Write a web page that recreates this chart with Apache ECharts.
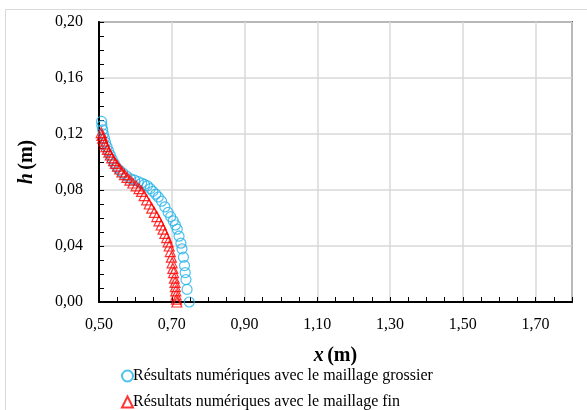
<!DOCTYPE html>
<html>
<head>
<meta charset="utf-8">
<script src="https://cdn.jsdelivr.net/npm/echarts@6/dist/echarts.min.js"></script>
<style>
  html, body { margin: 0; padding: 0; background: #fff; }
  #chart { width: 587px; height: 410px; }
</style>
</head>
<body>
<div id="chart"></div>
<script>
// maillage grossier (cercles bleus)
var xGrossier = [0.507, 0.508, 0.510, 0.512, 0.515, 0.518, 0.522, 0.526, 0.531, 0.536,
  0.542, 0.549, 0.557, 0.566, 0.576, 0.587, 0.598, 0.608, 0.617, 0.625,
  0.633, 0.641, 0.648, 0.656, 0.663, 0.672, 0.681, 0.690, 0.697, 0.704,
  0.710, 0.715, 0.720, 0.725, 0.728, 0.732, 0.735, 0.737, 0.739, 0.742,
  0.748];
var hGrossier = [0.129, 0.126, 0.123, 0.120, 0.117, 0.114, 0.111, 0.108, 0.105, 0.102,
  0.099, 0.096, 0.094, 0.092, 0.090, 0.088, 0.087, 0.086, 0.085, 0.084,
  0.083, 0.081, 0.079, 0.077, 0.075, 0.072, 0.068, 0.064, 0.061, 0.058,
  0.055, 0.052, 0.047, 0.042, 0.038, 0.032, 0.026, 0.021, 0.016, 0.009,
  0.000];

// maillage fin (triangles rouges)
var xFin = [0.506, 0.508, 0.510, 0.513, 0.516, 0.519, 0.523, 0.527, 0.531, 0.535,
  0.540, 0.545, 0.551, 0.557, 0.563, 0.570, 0.577, 0.585, 0.593, 0.602,
  0.610, 0.617, 0.624, 0.631, 0.638, 0.645, 0.652, 0.659, 0.665, 0.671,
  0.676, 0.681, 0.686, 0.690, 0.693, 0.696, 0.699, 0.701, 0.703, 0.705,
  0.707, 0.709, 0.710, 0.711, 0.712, 0.713, 0.714];
var hFin = [0.121, 0.119, 0.117, 0.115, 0.113, 0.111, 0.109, 0.107, 0.105, 0.103,
  0.101, 0.099, 0.097, 0.095, 0.093, 0.091, 0.089, 0.087, 0.085, 0.083,
  0.081, 0.079, 0.076, 0.073, 0.070, 0.067, 0.064, 0.061, 0.058, 0.055,
  0.052, 0.049, 0.046, 0.043, 0.040, 0.036, 0.032, 0.028, 0.024, 0.021,
  0.017, 0.014, 0.011, 0.008, 0.005, 0.002, 0.000];

var nomGrossier = 'Résultats numériques avec le maillage grossier';
var nomFin = 'Résultats numériques avec le maillage fin';

function zip (xs, ys) {
  return xs.map(function (x, i) { return [x, ys[i]]; });
}

function virgule (v) {
  return v.toFixed(2).replace('.', ',');
}

var police = 'Liberation Serif';

var chartDom = document.getElementById('chart');
var myChart = echarts.init(chartDom);
var option;

var legendeBase = {
  orient: 'vertical',
  left: 121,
  itemWidth: 11,
  itemHeight: 11,
  padding: 0,
  textStyle: { fontFamily: police, fontSize: 16, color: '#000', padding: [0, 0, 0, -5] }
};

option = {
  animation: false,
  graphic: [
    {
      type: 'rect',
      shape: { x: 5.5, y: 9.5, width: 620, height: 440 },
      style: { fill: 'none', stroke: '#d9d9d9', lineWidth: 1 },
      z: -1
    }
  ],
  grid: {
    left: 99, right: 15, top: 22, bottom: 108,
    show: true,
    borderColor: '#5a5a5a',
    borderWidth: 2
  },
  legend: [
    Object.assign({}, legendeBase, { top: 368, data: [nomGrossier] }),
    Object.assign({}, legendeBase, { top: 394, data: [nomFin] })
  ],
  xAxis: {
    type: 'value',
    min: 0.5,
    max: 1.8,
    interval: 0.2,
    name: '{i|x} {n|(m)}',
    nameLocation: 'middle',
    nameGap: 44,
    nameTextStyle: {
      rich: {
        i: { fontFamily: police, fontSize: 20, fontWeight: 'bold', fontStyle: 'italic', color: '#000' },
        n: { fontFamily: police, fontSize: 20, fontWeight: 'bold', color: '#000' }
      }
    },
    axisLine: { show: true, onZero: false, lineStyle: { color: '#000', width: 2 } },
    axisTick: { show: true, inside: true, length: 5, lineStyle: { color: '#000' } },
    minorTick: { show: true, splitNumber: 4, length: 5, lineStyle: { color: '#000' } },
    axisLabel: {
      fontFamily: police, fontSize: 16, color: '#000', margin: 15,
      showMaxLabel: false,
      formatter: virgule
    },
    splitLine: { show: true, lineStyle: { color: '#d9d9d9', width: 1.5 } }
  },
  yAxis: {
    type: 'value',
    min: 0,
    max: 0.2,
    interval: 0.04,
    name: '{i|h} {n|(m)}',
    nameLocation: 'middle',
    nameGap: 62,
    nameTextStyle: {
      rich: {
        i: { fontFamily: police, fontSize: 20, fontWeight: 'bold', fontStyle: 'italic', color: '#000' },
        n: { fontFamily: police, fontSize: 20, fontWeight: 'bold', color: '#000' }
      }
    },
    axisLine: { show: true, onZero: false, lineStyle: { color: '#000', width: 2 } },
    axisTick: { show: true, inside: true, length: 5, lineStyle: { color: '#000' } },
    minorTick: { show: true, splitNumber: 4, length: 5, lineStyle: { color: '#000' } },
    axisLabel: {
      fontFamily: police, fontSize: 16, color: '#000', margin: 16,
      formatter: virgule
    },
    splitLine: { show: true, lineStyle: { color: '#d9d9d9', width: 1.5 } }
  },
  series: [
    {
      name: nomGrossier,
      type: 'scatter',
      symbol: 'circle',
      symbolSize: 10,
      itemStyle: { color: 'rgba(0,0,0,0)', borderColor: '#1fb1ea', borderWidth: 1.2 },
      data: zip(xGrossier, hGrossier)
    },
    {
      name: nomFin,
      type: 'scatter',
      symbol: 'triangle',
      symbolSize: 10,
      itemStyle: { color: 'rgba(0,0,0,0)', borderColor: '#ff0000', borderWidth: 1.2 },
      data: zip(xFin, hFin)
    }
  ]
};

option && myChart.setOption(option);
</script>
</body>
</html>
